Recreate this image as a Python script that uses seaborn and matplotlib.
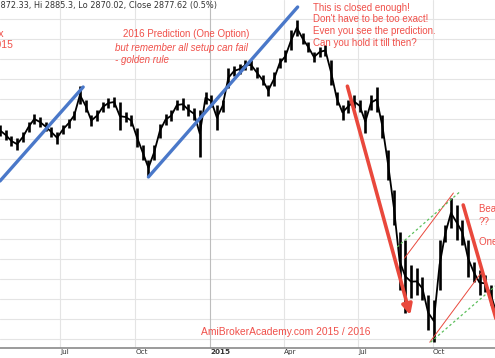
import pandas as pd
import seaborn as sns
import matplotlib.pyplot as plt

# weekly high / low bars (index points), one bar per week from 2014-04-18
week_start = "2014-04-18"
week_high = [3335, 3322, 3308, 3302, 3318, 3342, 3362, 3355, 3342, 3330,
             3318, 3335, 3350, 3370, 3432, 3398, 3360, 3372, 3392, 3402,
             3405, 3392, 3368, 3360, 3328, 3285, 3248, 3285, 3338, 3362,
             3372, 3398, 3402, 3388, 3378, 3372, 3418, 3410, 3385, 3398,
             3478, 3482, 3488, 3498, 3498, 3480, 3460, 3435, 3468, 3502,
             3522, 3572, 3598, 3565, 3542, 3518, 3530, 3535, 3498, 3418,
             3385, 3398, 3410, 3398, 3372, 3410, 3430, 3360, 3272, 3172,
             3068, 3048, 2985, 2978, 2955, 2910, 2898, 3048, 3085, 3152,
             3135, 3098, 3048, 2992, 2972, 2960, 2935, 2885]
week_low = [3308, 3298, 3282, 3272, 3292, 3318, 3338, 3330, 3320, 3305,
            3288, 3312, 3328, 3348, 3388, 3368, 3332, 3345, 3368, 3378,
            3380, 3322, 3342, 3332, 3280, 3248, 3208, 3248, 3302, 3335,
            3345, 3372, 3372, 3358, 3348, 3255, 3388, 3380, 3322, 3368,
            3428, 3458, 3462, 3472, 3472, 3452, 3435, 3408, 3432, 3478,
            3492, 3522, 3558, 3538, 3518, 3492, 3505, 3508, 3435, 3385,
            3348, 3365, 3378, 3368, 3315, 3372, 3368, 3302, 3198, 3085,
            2922, 2865, 2902, 2910, 2898, 2822, 2792, 2922, 3042, 3078,
            3048, 3035, 2955, 2942, 2910, 2918, 2885, 2842]

# hand drawn trend lines (start, end)
blue_up1 = (["2014-04-18", "2014-07-29"], [3195, 3430])
blue_up2 = (["2014-10-17", "2015-04-18"], [3205, 3630])
red_down1 = (["2015-06-18", "2015-09-03"], [3432, 2860])
red_down2 = (["2015-11-07", "2015-12-23"], [3135, 2810])
red_thin1 = (["2015-08-27", "2015-10-26"], [3002, 3165])
red_thin2 = (["2015-09-27", "2015-11-30"], [2792, 2968])
green_dot1 = (["2015-08-18", "2015-11-04"], [3030, 3170])
green_dot2 = (["2015-09-28", "2015-12-19"], [2792, 2937])

tick_dates = ["2014-07-01", "2014-10-01", "2015-01-01", "2015-04-01",
              "2015-07-01", "2015-10-01"]
tick_labels = ["Jul", "Oct", "2015", "Apr", "Jul", "Oct"]
grid_levels = list(range(2800, 3601, 50))

red = "#f0504a"
red_line = "#e9483c"
blue = "#4a78c9"
green = "#5cbf5c"

sns.set_style("white")
plt.rcParams['font.family'] = ['DejaVu Sans']

fig = plt.figure(figsize=(4.95, 3.58), dpi=100)
ax = fig.add_axes([0, 10 / 358, 1, 348 / 358])

df = pd.DataFrame({
    'date': pd.date_range(week_start, periods=len(week_high), freq='7D'),
    'high': week_high,
    'low': week_low,
})
df['mid'] = (df['high'] + df['low']) / 2

# grid
for lvl in grid_levels:
    ax.axhline(lvl, color='#e4e4e4', lw=0.8, zorder=0)
for d in pd.to_datetime(tick_dates):
    c = '#bdbdbd' if d.month == 1 else '#e4e4e4'
    ax.axvline(d, color=c, lw=0.8, zorder=0)

ax.vlines(df['date'], df['low'], df['high'], color='black', lw=1.9, zorder=2)
sns.lineplot(data=df, x='date', y='mid', ax=ax, color='black', lw=1.3, zorder=2)


def seg(line, **kw):
    xs, ys = line
    sns.lineplot(x=pd.to_datetime(xs), y=ys, ax=ax, **kw)


seg(blue_up1, color=blue, lw=2.4, zorder=3)
seg(blue_up2, color=blue, lw=2.4, zorder=3)
seg(red_thin1, color=red_line, lw=0.7, zorder=3)
seg(red_thin2, color=red_line, lw=0.7, zorder=3)
seg(green_dot1, color=green, lw=0.9, ls=(0, (2, 2)), zorder=3)
seg(green_dot2, color=green, lw=0.9, ls=(0, (2, 2)), zorder=3)
seg(red_down2, color=red_line, lw=2.6, zorder=3)

xs, ys = red_down1
ax.annotate("", xy=(pd.Timestamp(xs[1]), ys[1]), xytext=(pd.Timestamp(xs[0]), ys[0]),
            arrowprops=dict(arrowstyle='-|>', color=red_line, lw=2.6,
                            mutation_scale=15, shrinkA=0, shrinkB=0), zorder=3)

ax.set_xlim(pd.Timestamp("2014-04-18"), pd.Timestamp("2015-12-16"))
ax.set_ylim(2777.5, 3647.5)
ax.set_yticks([])
ax.set_xticks(pd.to_datetime(tick_dates))
ax.set_xticklabels(tick_labels, ha='left', fontsize=5.2, color='#333333')
ax.get_xticklabels()[2].set_fontweight('bold')
ax.tick_params(axis='x', direction='out', length=3, width=0.8, pad=-2.5, colors='#555555')
for lab in ax.get_xticklabels():
    lab.set_color('#333333')
ax.set_xlabel('')
ax.set_ylabel('')
for s in ['top', 'left', 'right']:
    ax.spines[s].set_visible(False)
ax.spines['bottom'].set_color('#8a8a8a')
ax.spines['bottom'].set_linewidth(1.2)


def px(x, y):
    return x / 495, 1 - y / 358


fig.text(*px(217, 6), "Open 2872.33, Hi 2885.3, Lo 2870.02, Close 2877.62 (0.5%)",
         ha='right', va='center', fontsize=5.85, color='#333333')

rf = ['Liberation Sans', 'DejaVu Sans']
fig.text(*px(4, 34), "Straits Times Index", ha='right', va='center', fontsize=7.5,
         color=red, family=rf)
fig.text(*px(13, 45), "Jan 2015", ha='right', va='center', fontsize=7.5, color=red, family=rf)

fig.text(*px(123, 34), "2016 Prediction (One Option)", ha='left', va='center',
         fontsize=7, color=red, family=rf)
fig.text(*px(115, 48), "but remember all setup can fail", ha='left', va='center',
         fontsize=7, color=red, style='italic', family=rf)
fig.text(*px(115, 60), "- golden rule", ha='left', va='center',
         fontsize=7, color=red, style='italic', family=rf)

for i, line in enumerate(["This is closed enough!", "Don't have to be too exact!",
                          "Even you see the prediction.", "Can you hold it till then?"]):
    fig.text(*px(313, 8 + i * 11.5), line, ha='left', va='center', fontsize=7,
             color=red, family=rf)

fig.text(*px(479, 209), "Bear Market", ha='left', va='center', fontsize=7, color=red, family=rf)
fig.text(*px(479, 222), "??", ha='left', va='center', fontsize=7, color=red, family=rf)
fig.text(*px(479, 242), "One Option", ha='left', va='center', fontsize=7, color=red, family=rf)

fig.text(*px(201, 332), "AmiBrokerAcademy.com 2015 / 2016", ha='left', va='center',
         fontsize=7.4, color=red, family=rf)

fig.savefig("out.png", dpi=100)
